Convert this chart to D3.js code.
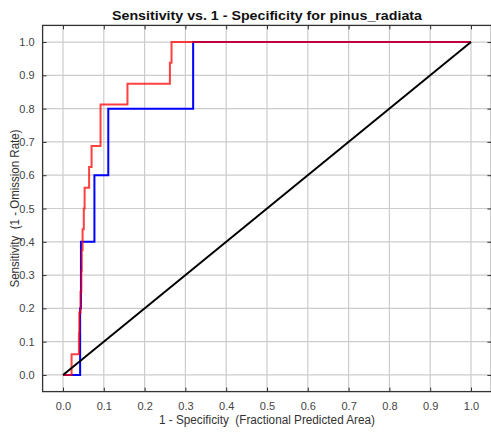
<!DOCTYPE html>
<html><head><meta charset="utf-8">
<script src="https://cdn.jsdelivr.net/npm/d3@7"></script>
<style>body{margin:0;background:#fff}svg{display:block}</style>
</head><body>
<script>
const titleText = "Sensitivity vs. 1 - Specificity for pinus_radiata";
const xTitle = "1 - Specificity  (Fractional Predicted Area)";
const yTitle = "Sensitivity  (1 - Omission Rate)";
const tickValues = [0,0.1,0.2,0.3,0.4,0.5,0.6,0.7,0.8,0.9,1.0];
const tickLabels = ["0.0","0.1","0.2","0.3","0.4","0.5","0.6","0.7","0.8","0.9","1.0"];
// Training (red) ROC vertices
const trainFpr = [0,0.021,0.021,0.039,0.039,0.040,0.040,0.043,0.043,0.045,0.045,0.046,0.046,0.048,0.048,0.051,0.051,0.053,0.053,0.064,0.064,0.070,0.070,0.092,0.092,0.158,0.158,0.262,0.262,0.266,0.266,1];
const trainTpr = [0,0,0.0625,0.0625,0.125,0.125,0.1875,0.1875,0.25,0.25,0.3125,0.3125,0.375,0.375,0.4375,0.4375,0.5,0.5,0.5625,0.5625,0.625,0.625,0.6875,0.6875,0.8125,0.8125,0.875,0.875,0.9375,0.9375,1,1];
// Test (blue) ROC vertices
const testFpr = [0,0.042,0.042,0.044,0.044,0.077,0.077,0.111,0.111,0.319,0.319,1];
const testTpr = [0,0,0.2,0.2,0.4,0.4,0.6,0.6,0.8,0.8,1,1];
// Random prediction line
const randFpr = [0,1];
const randTpr = [0,1];

const W=491,H=432;
const FONT="'Liberation Sans',Arial,sans-serif";
const x = d3.scaleLinear().domain([-0.05,1.05]).range([42.6,491.4]);
const y = d3.scaleLinear().domain([-0.05,1.05]).range([391.6,25.4]);
const svg = d3.select("body").append("svg").attr("width",W).attr("height",H);

// grid
const g = svg.append("g");
g.selectAll(".vg").data(tickValues).enter().append("line")
 .attr("x1",d=>x(d)).attr("x2",d=>x(d)).attr("y1",y.range()[0]).attr("y2",y.range()[1])
 .attr("stroke","#cccccc").attr("stroke-width",1.2);
g.selectAll(".hg").data(tickValues).enter().append("line")
 .attr("y1",d=>y(d)).attr("y2",d=>y(d)).attr("x1",x.range()[0]).attr("x2",x.range()[1])
 .attr("stroke","#cccccc").attr("stroke-width",1.2);

// axes (inward ticks)
const fmt = (d,i)=>tickLabels[i];
const ax = (gen, tr)=>{ const a=svg.append("g").attr("transform",tr).call(gen);
  a.select(".domain").remove();
  a.selectAll(".tick line").attr("stroke","#333");
  a.selectAll("text").attr("fill","#444").style("font-family",FONT).style("font-size","11px");
  return a; };
ax(d3.axisBottom(x).tickValues(tickValues).tickFormat(fmt).tickSizeInner(-4).tickSizeOuter(0).tickPadding(11), `translate(0,${y.range()[0]})`);
ax(d3.axisLeft(y).tickValues(tickValues).tickFormat(fmt).tickSizeInner(-4).tickSizeOuter(0).tickPadding(8), `translate(${x.range()[0]},0)`);
ax(d3.axisTop(x).tickValues(tickValues).tickFormat("").tickSizeInner(-4).tickSizeOuter(0), `translate(0,${y.range()[1]})`);
ax(d3.axisRight(y).tickValues(tickValues).tickFormat("").tickSizeInner(-4).tickSizeOuter(0), `translate(${x.range()[1]},0)`);

// frame
svg.append("rect").attr("x",x.range()[0]).attr("y",y.range()[1])
 .attr("width",x.range()[1]-x.range()[0]).attr("height",y.range()[0]-y.range()[1])
 .attr("fill","none").attr("stroke","#333").attr("stroke-width",1.3);

const line = d3.line().x(d=>x(d[0])).y(d=>y(d[1]));
const series = [
 {fx:testFpr, ty:testTpr, color:"#0000ff", op:1},
 {fx:trainFpr, ty:trainTpr, color:"#ff0000", op:0.75},
 {fx:randFpr, ty:randTpr, color:"#000000", op:1}
];
series.forEach(s=>{
  svg.append("path").datum(s.fx.map((v,i)=>[v,s.ty[i]])).attr("d",line)
   .attr("fill","none").attr("stroke",s.color).attr("stroke-opacity",s.op)
   .attr("stroke-width",2).attr("stroke-linejoin","miter");
});

const cx=(x.range()[0]+x.range()[1])/2;
svg.append("text").attr("x",cx).attr("y",19.5)
 .attr("text-anchor","middle").style("font-family",FONT)
 .style("font-weight","bold").style("font-size","13px").attr("fill","#111")
 .attr("textLength",310).attr("lengthAdjust","spacingAndGlyphs").text(titleText);
svg.append("text").attr("x",cx).attr("y",424)
 .attr("text-anchor","middle").style("font-family",FONT).style("white-space","pre")
 .style("font-size","12px").attr("fill","#333")
 .attr("textLength",216).attr("lengthAdjust","spacingAndGlyphs").text(xTitle);
svg.append("text").attr("transform",`translate(19,${(y.range()[0]+y.range()[1])/2}) rotate(-90)`)
 .attr("text-anchor","middle").style("font-family",FONT).style("white-space","pre")
 .style("font-size","12px").attr("fill","#333")
 .attr("textLength",158).attr("lengthAdjust","spacingAndGlyphs").text(yTitle);
</script>
</body></html>
